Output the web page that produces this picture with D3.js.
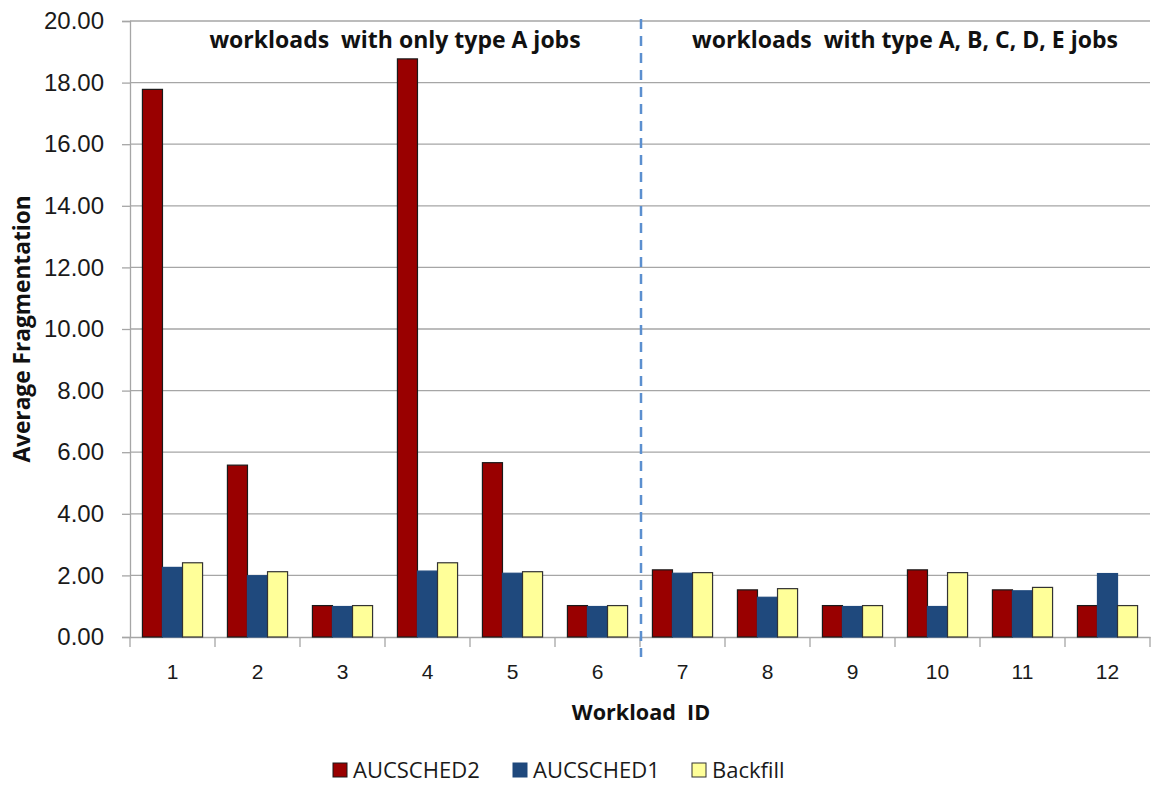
<!DOCTYPE html>
<html>
<head>
<meta charset="utf-8">
<script src="https://cdn.jsdelivr.net/npm/d3@7"></script>
<style>
  html, body { margin: 0; padding: 0; background: #fff; }
  svg { display: block; font-family: "Open Sans", "Noto Sans", sans-serif; }
  svg text { white-space: pre; }
</style>
</head>
<body>
<svg id="chart" width="1158" height="785"></svg>
<script>
// Workload IDs along the x axis
const workloads = ["1", "2", "3", "4", "5", "6", "7", "8", "9", "10", "11", "12"];
// Series names as shown in the legend
const seriesNames = ["AUCSCHED2", "AUCSCHED1", "Backfill"];
// Average fragmentation per workload, one array per scheduler
const aucsched2 = [17.78, 5.58, 1.02, 18.77, 5.66, 1.02, 2.18, 1.53, 1.02, 2.18, 1.53, 1.02];
const aucsched1 = [2.26, 1.99, 0.99, 2.14, 2.07, 0.99, 2.07, 1.29, 0.99, 0.99, 1.50, 2.06];
const backfill  = [2.41, 2.12, 1.02, 2.41, 2.12, 1.02, 2.09, 1.57, 1.02, 2.09, 1.61, 1.02];
// Y axis ticks
const yTicks = [0, 2, 4, 6, 8, 10, 12, 14, 16, 18, 20];
// Group annotations and the workload where the first group ends
const groupLabels = ["workloads  with only type A jobs", "workloads  with type A, B, C, D, E jobs"];
const splitAfter = "6";

const seriesValues = [aucsched2, aucsched1, backfill];
const colors = ["#990000", "#1F497D", "#FFFF99"];
const strokes = ["#1a1a1a", "#1F497D", "#333333"];

const svg = d3.select("#chart");
const plot = { left: 130, right: 1150, top: 21, bottom: 637 };

const x = d3.scaleBand().domain(workloads).range([plot.left, plot.right]);
const xs = d3.scaleBand().domain(seriesNames)
  .range([0, x.bandwidth()]).paddingOuter(0.62).paddingInner(0);
const y = d3.scaleLinear().domain([0, 20]).range([plot.bottom, plot.top]);

const gridColor = "#a6a6a6";
const textColor = "#1a1a1a";

// Horizontal gridlines
svg.append("g").selectAll("line").data(yTicks.filter(d => d > 0)).join("line")
  .attr("x1", plot.left).attr("x2", plot.right)
  .attr("y1", d => y(d)).attr("y2", d => y(d))
  .attr("stroke", gridColor).attr("stroke-width", 1.3);

// Y axis
const yAxis = svg.append("g").attr("transform", `translate(${plot.left},0)`)
  .call(d3.axisLeft(y).tickValues(yTicks).tickFormat(d3.format(".2f")).tickSize(8).tickPadding(18));
yAxis.select(".domain").attr("stroke", gridColor).attr("stroke-width", 1.3);
yAxis.selectAll(".tick line").attr("stroke", gridColor).attr("stroke-width", 1.3);
yAxis.selectAll(".tick text").attr("font-size", 24).attr("fill", textColor);

// X axis
const xAxis = svg.append("g").attr("transform", `translate(0,${plot.bottom})`)
  .call(d3.axisBottom(x).tickSize(0).tickPadding(27));
xAxis.select(".domain").attr("stroke", gridColor).attr("stroke-width", 1.3);
xAxis.selectAll(".tick text").attr("font-size", 21).attr("fill", textColor);
// Tick marks sit on the band boundaries
svg.append("g").selectAll("line").data(d3.range(workloads.length + 1)).join("line")
  .attr("x1", i => plot.left + i * x.step()).attr("x2", i => plot.left + i * x.step())
  .attr("y1", plot.bottom).attr("y2", plot.bottom + 10)
  .attr("stroke", gridColor).attr("stroke-width", 1.3);

// Bars
const groups = svg.append("g").selectAll("g").data(workloads).join("g")
  .attr("transform", d => `translate(${x(d)},0)`);
groups.selectAll("rect")
  .data((d, i) => seriesNames.map((s, k) => ({ s, k, v: seriesValues[k][i] })))
  .join("rect")
  .attr("x", d => xs(d.s))
  .attr("width", xs.bandwidth())
  .attr("y", d => y(d.v))
  .attr("height", d => y(0) - y(d.v))
  .attr("fill", d => colors[d.k])
  .attr("stroke", d => strokes[d.k])
  .attr("stroke-width", 1.2);

// Dashed divider between the two workload groups
const splitX = x(splitAfter) + x.bandwidth() + 1;
svg.append("line")
  .attr("x1", splitX).attr("x2", splitX)
  .attr("y1", plot.top - 2).attr("y2", plot.bottom + 20)
  .attr("stroke", "#5B8FCF").attr("stroke-width", 2.5)
  .attr("stroke-dasharray", "10,7");

// Group annotations
const annoX = [395, 905];
svg.append("g").selectAll("text").data(groupLabels).join("text")
  .attr("x", (d, i) => annoX[i]).attr("y", 48)
  .attr("text-anchor", "middle").attr("font-size", 23).attr("font-weight", "bold")
  .attr("fill", "#111").text(d => d);

// Axis titles
svg.append("text").attr("transform", `translate(30,${(plot.top + plot.bottom) / 2}) rotate(-90)`)
  .attr("text-anchor", "middle").attr("font-size", 22.7).attr("font-weight", "bold")
  .attr("fill", "#111").text("Average Fragmentation");
svg.append("text").attr("x", 641).attr("y", 720)
  .attr("text-anchor", "middle").attr("font-size", 21.6).attr("font-weight", "bold")
  .attr("fill", "#111").text("Workload  ID");

// Legend
const legendX = [333, 513, 692];
const legend = svg.append("g").selectAll("g").data(seriesNames).join("g")
  .attr("transform", (d, i) => `translate(${legendX[i]},763)`);
legend.append("rect").attr("width", 14).attr("height", 14).attr("y", 0)
  .attr("fill", (d, i) => colors[i]).attr("stroke", (d, i) => strokes[i]).attr("stroke-width", 1);
legend.append("text").attr("x", 20).attr("y", 15).attr("font-size", 22)
  .attr("fill", textColor).text(d => d);
</script>
</body>
</html>
